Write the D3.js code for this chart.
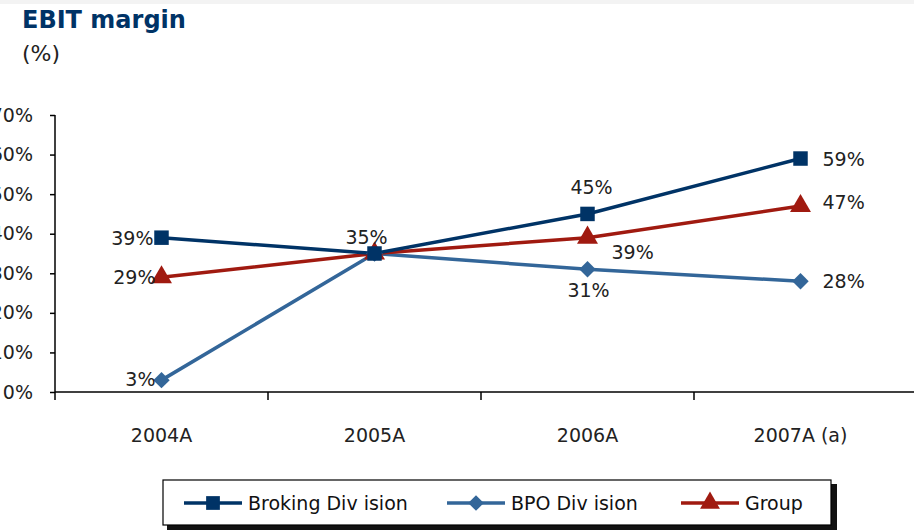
<!DOCTYPE html>
<html lang="en">
<head>
<meta charset="utf-8">
<title>EBIT margin</title>
<script src="https://cdn.jsdelivr.net/npm/d3@7"></script>
<style>
body { margin: 0; background: #fff; }
text { font-family: "Century Gothic", "DejaVu Sans", sans-serif; }
</style>
</head>
<body>
<script>
// chart data
var years = ["2004A", "2005A", "2006A", "2007A (a)"];
var broking = [39, 35, 45, 59];
var bpo = [3, 35, 31, 28];
var group = [29, 35, 39, 47];
var yTicks = [0, 10, 20, 30, 40, 50, 60, 70];
var seriesNames = ["Broking Div ision", "BPO Div ision", "Group"];

var w = 914, h = 530;
var plotLeft = 55, plotRight = 907, plotTop = 115, plotBottom = 392;

var svg = d3.select("body").append("svg")
    .attr("width", w)
    .attr("height", h);

// faint strip at the very top
svg.append("rect").attr("x", 0).attr("y", 0).attr("width", w).attr("height", 4).attr("fill", "#f3f3f3");

svg.append("text").attr("x", 22).attr("y", 28)
    .attr("fill", "#003366").attr("font-size", 24).attr("font-weight", "bold")
    .text("EBIT margin");
svg.append("text").attr("x", 22).attr("y", 61)
    .attr("fill", "#222").attr("font-size", 22)
    .text("(%)");

var x = d3.scaleBand().domain(years).range([plotLeft, plotRight]);
var y = d3.scaleLinear().domain([0, 70]).range([plotBottom, plotTop]);

// y axis (labels run off the left edge, as in the original)
var yAxis = svg.append("g")
    .attr("transform", "translate(" + plotLeft + ",0)")
    .call(d3.axisLeft(y).tickValues(yTicks).tickSize(5).tickPadding(17)
        .tickFormat(function(d) { return d + "%"; }));
yAxis.select(".domain").remove();
yAxis.append("line").attr("x1", 0).attr("x2", 0).attr("y1", plotTop).attr("y2", plotBottom + 8)
    .attr("stroke", "#000").attr("stroke-width", 1.5);
yAxis.selectAll(".tick line").attr("stroke-width", 1.5);
yAxis.selectAll("text").attr("font-size", 19).attr("fill", "#222");

// x axis
var xg = svg.append("g").attr("transform", "translate(0," + plotBottom + ")");
xg.append("line").attr("x1", plotLeft).attr("x2", w).attr("y1", 0).attr("y2", 0)
    .attr("stroke", "#000").attr("stroke-width", 1.5);
xg.selectAll(".xt").data(years.slice(1)).enter().append("line")
    .attr("x1", function(d) { return x(d); })
    .attr("x2", function(d) { return x(d); })
    .attr("y1", 0).attr("y2", 8)
    .attr("stroke", "#000").attr("stroke-width", 1.5);
xg.selectAll(".xl").data(years).enter().append("text")
    .attr("x", function(d) { return x(d) + x.bandwidth() / 2; })
    .attr("y", 50)
    .attr("text-anchor", "middle")
    .attr("font-size", 19).attr("fill", "#222")
    .text(function(d) { return d; });

var cx = function(i) { return x(years[i]) + x.bandwidth() / 2; };

// square marker rotated 45deg gives the wide diamond
var series = [
    { name: seriesNames[0], values: broking, color: "#003366", shape: d3.symbolSquare, size: 210, rot: 0,
      labels: [["end", -8, 7], ["middle", -8, -10], ["middle", 4, -20], ["start", 22, 7]] },
    { name: seriesNames[1], values: bpo, color: "#336699", shape: d3.symbolSquare, size: 135, rot: 45,
      labels: [["end", -6, 6], ["middle", 0, -12], ["middle", 1, 28], ["start", 22, 7]] },
    { name: seriesNames[2], values: group, color: "#a01a10", shape: d3.symbolTriangle, size: 190, rot: 0,
      labels: [["end", -6, 7], ["middle", 0, -12], ["start", 24, 21], ["start", 22, 3]] }
];

var line = d3.line()
    .x(function(d, i) { return cx(i); })
    .y(function(d) { return y(d); });

// draw lines for all series first, then markers
var order = [1, 2, 0];
order.forEach(function(k) {
    var s = series[k];
    svg.append("path").datum(s.values)
        .attr("d", line)
        .attr("fill", "none")
        .attr("stroke", s.color)
        .attr("stroke-width", 3.5);
});
order.forEach(function(k) {
    var s = series[k];
    svg.selectAll(".m" + k).data(s.values).enter().append("path")
        .attr("transform", function(d, i) {
            return "translate(" + cx(i) + "," + y(d) + ") rotate(" + s.rot + ")";
        })
        .attr("d", d3.symbol().type(s.shape).size(s.size))
        .attr("fill", s.color);
});

// data labels (only one 35% label at 2005A)
series.forEach(function(s, k) {
    s.values.forEach(function(v, i) {
        if (i === 1 && k !== 0) return;
        var L = s.labels[i];
        svg.append("text")
            .attr("x", cx(i) + L[1])
            .attr("y", y(v) + L[2])
            .attr("text-anchor", L[0])
            .attr("font-size", 19).attr("fill", "#222")
            .text(v + "%");
    });
});

// legend
var lg = svg.append("g").attr("transform", "translate(163,480)");
lg.append("rect").attr("x", 4).attr("y", 4).attr("width", 670).attr("height", 46).attr("fill", "#111");
lg.append("rect").attr("x", 0).attr("y", 0).attr("width", 668).attr("height", 45)
    .attr("fill", "#fff").attr("stroke", "#000").attr("stroke-width", 1.2);
var legendX = [21, 284, 518];
series.forEach(function(s, k) {
    var g = lg.append("g").attr("transform", "translate(" + legendX[k] + ",23)");
    g.append("line").attr("x1", 0).attr("x2", 58).attr("stroke", s.color).attr("stroke-width", 3.5);
    g.append("path").attr("transform", "translate(29,0) rotate(" + s.rot + ")")
        .attr("d", d3.symbol().type(s.shape).size(s.size * 0.9)).attr("fill", s.color);
    g.append("text").attr("x", 64).attr("y", 7).attr("font-size", 19).attr("fill", "#111").text(s.name);
});
</script>
</body>
</html>
